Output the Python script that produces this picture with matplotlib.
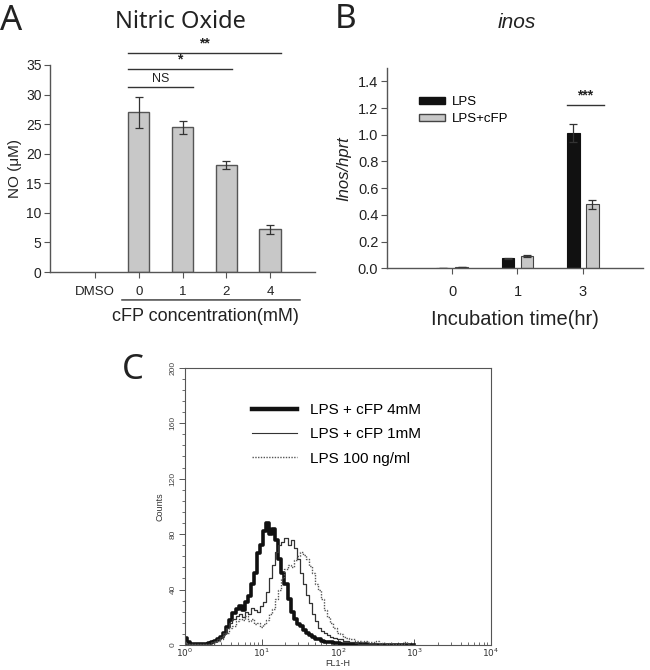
import numpy as np
import matplotlib
matplotlib.use("Agg")
import matplotlib.pyplot as plt
from matplotlib.patches import Patch
from matplotlib.lines import Line2D
from matplotlib.ticker import MultipleLocator, LogLocator, NullFormatter

plt.rcParams['font.family'] = ['Liberation Sans', 'DejaVu Sans']

# ---------------- Data ----------------
# Panel A
a_categories = ["DMSO", "0", "1", "2", "4"]
a_values = [0.0, 27.0, 24.5, 18.1, 7.2]
a_errors = [0.0, 2.6, 1.1, 0.7, 0.8]
a_sig_labels = ["NS", "*", "**"]
a_sig_heights = [31.3, 34.3, 37.1]

# Panel B
b_categories = ["0", "1", "3"]
b_lps = [0.004, 0.075, 1.016]
b_lps_err = [0.0, 0.003, 0.068]
b_cfp = [0.006, 0.092, 0.48]
b_cfp_err = [0.0, 0.004, 0.035]
b_sig_height = 1.226

# Panel C (flow cytometry histogram, log10 FL1-H channels)
c_log_fl1 = [0.00, 0.04, 0.08, 0.12, 0.16, 0.20, 0.24, 0.28, 0.32, 0.36,
             0.40, 0.44, 0.48, 0.52, 0.56, 0.60, 0.64, 0.68, 0.72, 0.76,
             0.80, 0.84, 0.88, 0.92, 0.96, 1.00, 1.04, 1.08, 1.12, 1.16,
             1.20, 1.24, 1.28, 1.32, 1.36, 1.40, 1.44, 1.48, 1.52, 1.56,
             1.60, 1.64, 1.68, 1.72, 1.76, 1.80, 1.84, 1.88, 1.92, 1.96,
             2.00, 2.04, 2.08, 2.12, 2.16, 2.20, 2.24, 2.28, 2.32, 2.36,
             2.40, 2.44, 2.48, 2.52, 2.56, 2.60, 2.64, 2.68, 2.72, 2.76,
             2.80, 2.84, 2.88, 2.92, 2.96, 3.00]
c_cfp4 = [5, 2, 1, 1, 0.5, 1, 0.5, 1, 1.5, 2,
          3, 4, 6, 9, 13, 18, 23, 26, 28, 25,
          31, 35, 44, 52, 66, 72, 82, 88, 80, 84,
          76, 62, 52, 44, 33, 24, 19, 15, 14, 11,
          9, 7, 6, 4, 4, 3, 2.5, 2, 2, 1.5,
          1.5, 1, 1, 0.5, 1, 0.5, 0.5, 0.5, 0, 0.5,
          0, 0, 0, 0, 0, 0, 0, 0, 0, 0,
          0, 0, 0, 0, 0, 0]
c_cfp1 = [1, 0.5, 1, 0.5, 0.5, 1, 0.5, 1, 1, 2,
          3, 4, 6, 9, 12, 16, 19, 21, 22, 20,
          24, 22, 27, 25, 24, 28, 31, 38, 48, 58,
          67, 72, 74, 77, 72, 76, 70, 62, 52, 44,
          36, 30, 22, 17, 12, 10, 8.5, 7, 6, 5,
          4.5, 4, 3, 3, 2, 2, 1.5, 1, 1, 1,
          0.5, 0.5, 0.5, 0, 0.5, 0, 0, 0, 0, 0,
          0, 0, 0, 0, 0, 0]
c_lps = [2, 0.5, 1, 0.5, 0.5, 1, 0.5, 1, 0.5, 1,
         2, 3, 4, 7, 9, 12, 14, 17, 19, 18,
         21, 17, 19, 15, 16, 13, 15, 18, 22, 26,
         33, 40, 48, 55, 58, 56, 61, 64, 67, 65,
         62, 57, 52, 44, 40, 33, 25, 20, 16, 12,
         9, 8, 6, 5, 4.5, 4, 3, 3, 2.5, 3,
         2.5, 2, 2, 3, 1.5, 1.5, 1, 1.5, 1, 1,
         1, 1, 2.5, 0.5, 0, 0]
c_labels = ["LPS + cFP 4mM", "LPS + cFP 1mM", "LPS 100 ng/ml"]

# ---------------- Figure ----------------
W, H = 650, 670
fig = plt.figure(figsize=(W / 100, H / 100), dpi=100)
fig.patch.set_facecolor("white")

def frac(x0, y0, x1, y1):
    return [x0 / W, 1 - y1 / H, (x1 - x0) / W, (y1 - y0) / H]

spine_col = "#555555"
text_col = "#222222"
bar_gray = "#c8c8c8"
head_font = ['Noto Sans', 'DejaVu Sans']

# ---------------- Panel A ----------------
axA = fig.add_axes(frac(50, 65, 315, 272))
xa = np.arange(len(a_categories))
bw = 0.49
for i in range(1, len(a_categories)):
    axA.bar(xa[i], a_values[i], width=bw, color=bar_gray, edgecolor="#555555",
            linewidth=1.0, yerr=a_errors[i], capsize=3,
            error_kw=dict(ecolor="#333333", elinewidth=0.9, capthick=0.9))
axA.set_xlim(-1.03, 5.03)
axA.set_ylim(0, 35)
axA.set_yticks(np.arange(0, 36, 5))
axA.set_xticks(xa)
axA.set_xticklabels(a_categories)
for s in ["top", "right"]:
    axA.spines[s].set_visible(False)
for s in ["left", "bottom"]:
    axA.spines[s].set_color(spine_col)
    axA.spines[s].set_linewidth(1.0)
axA.tick_params(axis="y", labelsize=10, colors=spine_col, labelcolor=text_col, length=4, pad=2)
axA.tick_params(axis="x", labelsize=9.5, colors=spine_col, labelcolor=text_col, length=4, pad=6)
axA.set_ylabel("NO (\u03bcM)", fontsize=11, color=text_col, labelpad=3)
# significance bars
left = xa[1] - bw / 2
rights = [xa[2] + bw / 2, xa[3] + 0.13, xa[4] + bw / 2]
for lab, h, r in zip(a_sig_labels, a_sig_heights, rights):
    axA.plot([left, r], [h, h], color="#333333", lw=1.0, clip_on=False)
    axA.text((left + r) / 2, h + 0.4, lab, ha="center", va="bottom",
             fontsize=9 if lab == "NS" else 10, color=text_col,
             fontweight="normal" if lab == "NS" else "bold", clip_on=False)
# group underline + label
axA.annotate("", xy=(0.26, -0.135), xytext=(0.955, -0.135), xycoords="axes fraction",
             arrowprops=dict(arrowstyle="-", color="#333333", lw=1.0))
axA.text(0.585, -0.215, "cFP concentration(mM)", transform=axA.transAxes,
         ha="center", va="center", fontsize=13, color=text_col)
fig.text(0 / W, 1 - 21 / H, "A", fontsize=25, ha="left", va="center", family=head_font, color=text_col)
fig.text(180 / W, 1 - 22 / H, "Nitric Oxide", fontsize=17, ha="center", va="center",
         family=head_font, color=text_col)

# ---------------- Panel B ----------------
axB = fig.add_axes(frac(386.7, 68, 643, 268.3))
xb = np.arange(len(b_categories))
bwb = 0.19
axB.bar(xb - 0.145, b_lps, width=bwb, color="#111111", edgecolor="#111111", linewidth=0.8,
        yerr=b_lps_err, capsize=3, error_kw=dict(ecolor="#333333", elinewidth=0.9, capthick=0.9))
axB.bar(xb + 0.145, b_cfp, width=bwb, color=bar_gray, edgecolor="#444444", linewidth=0.8,
        yerr=b_cfp_err, capsize=3, error_kw=dict(ecolor="#333333", elinewidth=0.9, capthick=0.9))
axB.set_xlim(-1.0, 2.92)
axB.set_ylim(0, 1.5)
axB.set_yticks(np.arange(0, 1.41, 0.2))
axB.set_yticklabels([f"{v:.1f}" for v in np.arange(0, 1.41, 0.2)])
axB.set_xticks(xb)
axB.set_xticklabels(b_categories)
for s in ["top", "right"]:
    axB.spines[s].set_visible(False)
for s in ["left", "bottom"]:
    axB.spines[s].set_color(spine_col)
    axB.spines[s].set_linewidth(1.0)
axB.tick_params(axis="y", labelsize=10.5, colors=spine_col, labelcolor=text_col, length=4, pad=2)
axB.tick_params(axis="x", labelsize=10.5, colors=spine_col, labelcolor=text_col, length=4, pad=8)
axB.set_ylabel("Inos/hprt", fontsize=12, style="italic", color=text_col, labelpad=5)
axB.set_xlabel("Incubation time(hr)", fontsize=14.5, color=text_col, labelpad=8)
axB.plot([xb[2] - 0.25, xb[2] + 0.33], [b_sig_height, b_sig_height], color="#333333", lw=1.0)
axB.text(xb[2] + 0.04, b_sig_height + 0.015, "***", ha="center", va="bottom",
         fontsize=10, fontweight="bold", color=text_col)
handles = [Patch(facecolor="#111111", edgecolor="#111111"),
           Patch(facecolor=bar_gray, edgecolor="#444444")]
axB.legend(handles, ["LPS", "LPS+cFP"], loc="upper left", bbox_to_anchor=(0.105, 0.885),
           frameon=False, fontsize=9.5, handlelength=2.0, handleheight=0.45,
           handletextpad=0.5, labelspacing=0.35, borderaxespad=0)
fig.text(335 / W, 1 - 20 / H, "B", fontsize=24, ha="left", va="center", family=head_font, color=text_col)
fig.text(517 / W, 1 - 22 / H, "inos", fontsize=15, style="italic", ha="center", va="center",
         color=text_col)

# ---------------- Panel C ----------------
axC = fig.add_axes(frac(185, 367.7, 491, 645))
xc = 10 ** np.array(c_log_fl1)
axC.plot(xc, c_cfp4, color="#111111", lw=2.6, drawstyle="steps-mid")
axC.plot(xc, c_cfp1, color="#333333", lw=0.9, drawstyle="steps-mid")
axC.plot(xc, c_lps, color="#555555", lw=1.0, ls=(0, (1, 1)), drawstyle="steps-mid")
axC.set_xscale("log")
axC.set_xlim(1, 1e4)
axC.set_ylim(0, 200)
axC.set_yticks(np.arange(0, 201, 40))
axC.yaxis.set_minor_locator(MultipleLocator(8))
axC.xaxis.set_minor_locator(LogLocator(base=10, subs=np.arange(2, 10), numticks=10))
axC.xaxis.set_minor_formatter(NullFormatter())
axC.set_xticks([1, 10, 100, 1000, 10000])
axC.set_xticklabels(["$10^0$", "$10^1$", "$10^2$", "$10^3$", "$10^4$"])
for s in axC.spines.values():
    s.set_color(spine_col)
    s.set_linewidth(0.8)
axC.tick_params(axis="y", which="major", labelsize=6, colors=spine_col, labelcolor="#444444",
                length=4, width=0.7, pad=2)
axC.tick_params(axis="y", which="minor", colors=spine_col, length=2, width=0.6)
for lab in axC.get_yticklabels():
    lab.set_rotation(90)
    lab.set_va("center")
axC.tick_params(axis="x", which="major", direction="in", labelsize=6.5, colors=spine_col,
                labelcolor="#333333", length=4, width=0.7, pad=1)
axC.tick_params(axis="x", which="minor", direction="in", colors=spine_col, length=2, width=0.6)
axC.text(0.5, -0.05, "FL1-H", transform=axC.transAxes, ha="center", va="top",
         fontsize=6.5, color="#333333")
axC.set_ylabel("Counts", fontsize=6.5, color="#333333", labelpad=4)
leg_handles = [Line2D([], [], color="#111111", lw=3.2),
               Line2D([], [], color="#333333", lw=0.8),
               Line2D([], [], color="#555555", lw=1.0, ls=(0, (1, 1)))]
axC.legend(leg_handles, c_labels, loc="upper left", bbox_to_anchor=(0.2, 0.895),
           frameon=False, fontsize=11, handlelength=2.9, handletextpad=0.85,
           labelspacing=0.68, borderaxespad=0)
fig.text(122 / W, 1 - 370 / H, "C", fontsize=25, ha="left", va="center", family=head_font, color=text_col)

fig.savefig("out.png", dpi=100, facecolor="white")
